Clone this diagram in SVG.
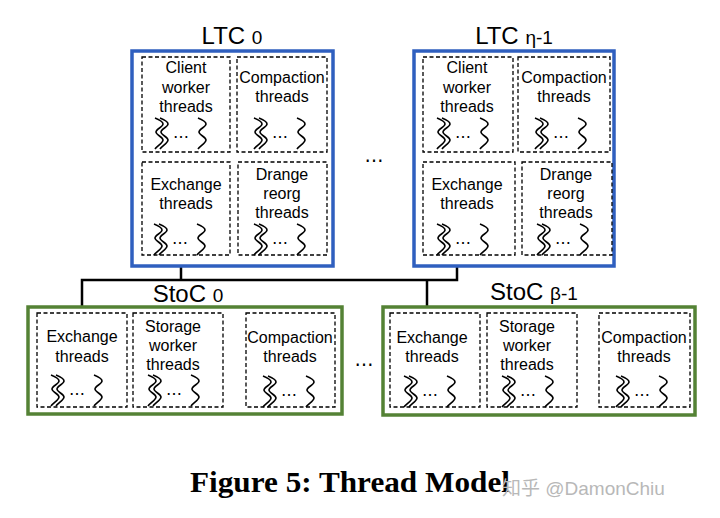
<svg xmlns="http://www.w3.org/2000/svg" xmlns:xlink="http://www.w3.org/1999/xlink" width="720" height="518" viewBox="0 0 720 518">
<style>
.ltc{fill:none;stroke:#2f5fbf;stroke-width:3.5}
.stoc{fill:none;stroke:#548235;stroke-width:3.5}
.in{fill:none;stroke:#000;stroke-width:1.3;stroke-dasharray:4 2.5}
.lbl{font-family:"Liberation Sans",Arial,sans-serif;font-size:16px;fill:#000;text-anchor:middle}
.ttl{font-family:"Liberation Sans",Arial,sans-serif;font-size:24px;fill:#000;text-anchor:middle}
.sub{font-size:19px}
.wave{fill:none;stroke:#000;stroke-width:1.6;stroke-linejoin:round}
.dots{font-family:"DejaVu Sans",sans-serif;font-size:16px;fill:#000;text-anchor:middle}
.gap{font-family:"DejaVu Sans",sans-serif;font-size:19px;fill:#000;text-anchor:middle}
.conn{fill:none;stroke:#000;stroke-width:2.5}
</style>
<defs>
<path id="w" class="wave" d="M1,0 C6,2 9,4 9,6 C9,9 2,11 2,14 C2,17 9,19 9,22 C9,25 3,28 1,31"/>
<g id="sq">
<use xlink:href="#w" x="-28" y="0"/>
<use xlink:href="#w" x="-23" y="0"/>
<text class="dots" x="-1" y="20">…</text>
<use xlink:href="#w" x="15" y="0"/>
</g>
</defs>

<g id="connectors">
<polyline class="conn" points="181,267 181,280"/>
<polyline class="conn" points="82,308 82,280 457,280 457,267"/>
<polyline class="conn" points="427,280 427,308"/>
</g>

<g id="ltc0">
<text class="ttl" x="232" y="44">LTC <tspan class="sub">0</tspan></text>
<rect class="ltc" x="132" y="51" width="201" height="215"/>
<g id="ltc0-client">
<rect class="in" x="142" y="57" width="88" height="95"/>
<text class="lbl" x="186" y="73">Client</text>
<text class="lbl" x="186" y="93">worker</text>
<text class="lbl" x="186" y="112">threads</text>
<use xlink:href="#sq" x="182" y="118"/>
</g>
<g id="ltc0-compaction">
<rect class="in" x="237" y="57" width="90" height="95"/>
<text class="lbl" x="282" y="83">Compaction</text>
<text class="lbl" x="282" y="102">threads</text>
<use xlink:href="#sq" x="281" y="118"/>
</g>
<g id="ltc0-exchange">
<rect class="in" x="142" y="162" width="88" height="93"/>
<text class="lbl" x="186" y="190">Exchange</text>
<text class="lbl" x="186" y="209">threads</text>
<use xlink:href="#sq" x="181" y="224"/>
</g>
<g id="ltc0-drange">
<rect class="in" x="238" y="162" width="89" height="93"/>
<text class="lbl" x="282" y="180">Drange</text>
<text class="lbl" x="282" y="199">reorg</text>
<text class="lbl" x="282" y="218">threads</text>
<use xlink:href="#sq" x="281" y="224"/>
</g>
</g>

<text class="gap" x="374" y="162">…</text>

<g id="ltcn">
<text class="ttl" x="514" y="44">LTC <tspan class="sub">η-1</tspan></text>
<rect class="ltc" x="414" y="51" width="200" height="215"/>
<g id="ltcn-client">
<rect class="in" x="423" y="57" width="90" height="95"/>
<text class="lbl" x="467" y="73">Client</text>
<text class="lbl" x="467" y="93">worker</text>
<text class="lbl" x="467" y="112">threads</text>
<use xlink:href="#sq" x="464" y="118"/>
</g>
<g id="ltcn-compaction">
<rect class="in" x="518" y="57" width="92" height="95"/>
<text class="lbl" x="564" y="83">Compaction</text>
<text class="lbl" x="564" y="102">threads</text>
<use xlink:href="#sq" x="562" y="118"/>
</g>
<g id="ltcn-exchange">
<rect class="in" x="423" y="162" width="92" height="93"/>
<text class="lbl" x="467" y="190">Exchange</text>
<text class="lbl" x="467" y="209">threads</text>
<use xlink:href="#sq" x="464" y="224"/>
</g>
<g id="ltcn-drange">
<rect class="in" x="522" y="162" width="90" height="93"/>
<text class="lbl" x="566" y="180">Drange</text>
<text class="lbl" x="566" y="199">reorg</text>
<text class="lbl" x="566" y="218">threads</text>
<use xlink:href="#sq" x="564" y="224"/>
</g>
</g>

<g id="stoc0">
<text class="ttl" x="188" y="302">StoC <tspan class="sub">0</tspan></text>
<rect class="stoc" x="28" y="307" width="314" height="107"/>
<g id="stoc0-exchange">
<rect class="in" x="37" y="313" width="90" height="94"/>
<text class="lbl" x="82" y="342">Exchange</text>
<text class="lbl" x="82" y="362">threads</text>
<use xlink:href="#sq" x="78" y="375"/>
</g>
<g id="stoc0-storage">
<rect class="in" x="133" y="313" width="90" height="94"/>
<text class="lbl" x="173" y="332">Storage</text>
<text class="lbl" x="173" y="351">worker</text>
<text class="lbl" x="173" y="370">threads</text>
<use xlink:href="#sq" x="175" y="375"/>
</g>
<g id="stoc0-compaction">
<rect class="in" x="246" y="313" width="89" height="94"/>
<text class="lbl" x="290" y="343">Compaction</text>
<text class="lbl" x="290" y="362">threads</text>
<use xlink:href="#sq" x="290" y="376"/>
</g>
</g>

<text class="gap" x="364" y="366">…</text>

<g id="stocb">
<text class="ttl" x="534" y="300">StoC <tspan class="sub">β-1</tspan></text>
<rect class="stoc" x="383" y="307" width="312" height="108"/>
<g id="stocb-exchange">
<rect class="in" x="390" y="313" width="90" height="94"/>
<text class="lbl" x="432" y="343">Exchange</text>
<text class="lbl" x="432" y="362">threads</text>
<use xlink:href="#sq" x="431" y="376"/>
</g>
<g id="stocb-storage">
<rect class="in" x="487" y="313" width="90" height="94"/>
<text class="lbl" x="527" y="332">Storage</text>
<text class="lbl" x="527" y="351">worker</text>
<text class="lbl" x="527" y="370">threads</text>
<use xlink:href="#sq" x="529" y="376"/>
</g>
<g id="stocb-compaction">
<rect class="in" x="599" y="313" width="91" height="94"/>
<text class="lbl" x="644" y="343">Compaction</text>
<text class="lbl" x="644" y="362">threads</text>
<use xlink:href="#sq" x="643" y="376"/>
</g>
</g>

<text x="190" y="492" font-family="'Liberation Serif','Times New Roman',serif" font-weight="bold" font-size="29" textLength="320" lengthAdjust="spacingAndGlyphs" fill="#000">Figure 5: Thread Model</text>
<text x="502" y="495" font-family="'Liberation Sans','Noto Sans CJK SC',sans-serif" font-size="19" fill="#b8b8b8"><tspan font-family="'Noto Sans CJK SC',sans-serif">知乎</tspan> @DamonChiu</text>
</svg>
